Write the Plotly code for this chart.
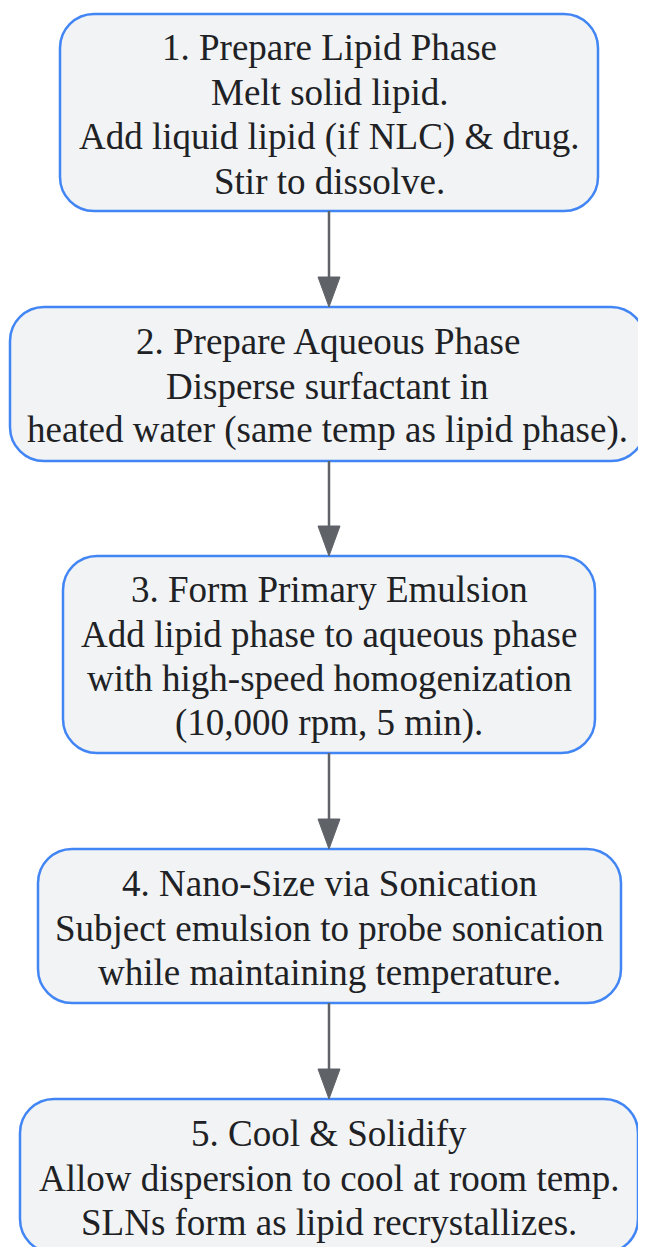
import plotly.graph_objects as go

# ---- data ----
step_titles = [
    "1. Prepare Lipid Phase",
    "2. Prepare Aqueous Phase",
    "3. Form Primary Emulsion",
    "4. Nano-Size via Sonication",
    "5. Cool & Solidify",
]
step_details = [
    ["Melt solid lipid.", "Add liquid lipid (if NLC) & drug.", "Stir to dissolve."],
    ["Disperse surfactant in", "heated water (same temp as lipid phase)."],
    ["Add lipid phase to aqueous phase", "with high-speed homogenization", "(10,000 rpm, 5 min)."],
    ["Subject emulsion to probe sonication", "while maintaining temperature."],
    ["Allow dispersion to cool at room temp.", "SLNs form as lipid recrystallizes."],
]

# ---- layout (pixel geometry, page coordinates) ----
W, H = 646, 1247
OFF = 8  # default page body margin
box_x0 = [60, 10, 63, 38, 20]
box_x1 = [598, 645, 595, 621, 638]
box_y0 = [14, 307, 556, 849, 1099]
box_y1 = [211, 461, 753, 1003, 1253]
radius = 34
line_gap = 44.4
font_size = 37
cx = 329

fill_col = "#f1f3f4"
border_col = "#4285f4"
arrow_col = "#5f6368"
text_col = "#202124"
font_family = "'Liberation Serif', 'Times New Roman', Times, serif"


def rounded_path(x0, y0, x1, y1, r):
    k = 0.5523 * r
    return (
        f"M {x0 + r},{y0} L {x1 - r},{y0} "
        f"C {x1 - r + k},{y0} {x1},{y0 + r - k} {x1},{y0 + r} "
        f"L {x1},{y1 - r} "
        f"C {x1},{y1 - r + k} {x1 - r + k},{y1} {x1 - r},{y1} "
        f"L {x0 + r},{y1} "
        f"C {x0 + r - k},{y1} {x0},{y1 - r + k} {x0},{y1 - r} "
        f"L {x0},{y0 + r} "
        f"C {x0},{y0 + r - k} {x0 + r - k},{y0} {x0 + r},{y0} Z"
    )


fig = go.Figure()
shapes = []
annotations = []

for i, title in enumerate(step_titles):
    x0, x1, y0, y1 = box_x0[i], box_x1[i], box_y0[i], box_y1[i]
    shapes.append(dict(
        type="path", xref="x", yref="y",
        path=rounded_path(x0, y0, x1, y1, radius),
        fillcolor=fill_col, line=dict(color=border_col, width=2.5), layer="below",
    ))
    lines = [title] + step_details[i]
    n = len(lines)
    center = (y0 + y1) / 2 + 2
    for j, ln in enumerate(lines):
        yy = center + (j - (n - 1) / 2) * line_gap
        annotations.append(dict(
            x=(x0 + x1) / 2, y=yy, xref="x", yref="y", text=ln,
            showarrow=False, xanchor="center", yanchor="middle",
            font=dict(family=font_family, size=font_size, color=text_col),
        ))

# connectors
for i in range(len(step_titles) - 1):
    y_start = box_y1[i]
    y_end = box_y0[i + 1]
    shapes.append(dict(
        type="line", xref="x", yref="y",
        x0=cx, x1=cx, y0=y_start, y1=y_end - 28,
        line=dict(color=arrow_col, width=2.5),
    ))
    shapes.append(dict(
        type="path", xref="x", yref="y",
        path=f"M {cx - 11},{y_end - 30} L {cx + 11},{y_end - 30} L {cx},{y_end} Z",
        fillcolor=arrow_col, line=dict(color=arrow_col, width=1),
    ))

fig.update_layout(
    width=W, height=H,
    margin=dict(l=0, r=0, t=0, b=0),
    paper_bgcolor="white", plot_bgcolor="white",
    xaxis=dict(range=[OFF, W + OFF], visible=False, fixedrange=True),
    yaxis=dict(range=[H + OFF, OFF], visible=False, fixedrange=True),
    shapes=shapes, annotations=annotations, showlegend=False,
)

fig.write_html("out.html", config={"displayModeBar": False})
